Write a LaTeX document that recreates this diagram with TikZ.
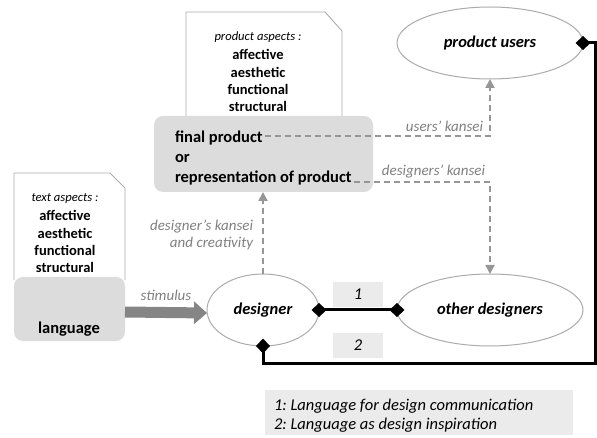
\documentclass[tikz,border=0pt]{standalone}
\usepackage{fontspec}
\setmainfont{Carlito}
\usetikzlibrary{arrows.meta, positioning, shapes.geometric, calc}
\definecolor{BoxGray}{HTML}{DCDCDC}
\definecolor{PaleGray}{HTML}{EBEBEB}
\definecolor{EdgeGray}{HTML}{ABABAB}
\definecolor{DashGray}{HTML}{969696}
\definecolor{LabelGray}{HTML}{7F7F7F}
\definecolor{StimGray}{HTML}{858585}
\frenchspacing

\begin{document}
\begin{tikzpicture}[x=1pt, y=-1pt, every node/.style={inner sep=0pt, outer sep=0pt},
    agent/.style={ellipse, draw=EdgeGray, line width=1pt, fill=white, font=\fontsize{16.5}{19.8}\selectfont\bfseries\itshape},
    graybox/.style={fill=BoxGray, rounded corners=9pt},
    notebox/.style={draw=EdgeGray, line width=0.9pt, fill=white},
    aspects/.style={align=center, font=\fontsize{14.5}{17.3}\selectfont\bfseries},
    boldtxt/.style={font=\fontsize{16.5}{19.8}\selectfont\bfseries},
    flowlbl/.style={text=LabelGray, font=\fontsize{15}{17}\selectfont\itshape},
    kansei/.style={draw=DashGray, line width=1.8pt, dash pattern=on 6pt off 4pt, -{Triangle[width=9pt, length=9pt]}},
    link/.style={line width=3pt, {Diamond[width=14pt, length=15pt]}-{Diamond[width=14pt, length=15pt]}, shorten <=-7.5pt, shorten >=-7.5pt},
    numbox/.style={fill=PaleGray, minimum width=50pt, minimum height=25pt, font=\fontsize{16.5}{19}\selectfont\itshape}]
    \useasboundingbox (0,0) rectangle (597,438);

    % Aspect notes
    \draw[notebox] (186,116) -- (186,12) -- (325,12) -- (342,31) -- (342,116);
    \node[aspects] (prodasp) at (258,72) {{\mdseries\itshape\fontsize{12.6}{15}\selectfont product aspects :}\\[1.7pt]affective\\aesthetic\\functional\\structural};
    \draw[notebox] (14,280) -- (14,173) -- (110,173) -- (125,188) -- (125,280);
    \node[aspects] (textasp) at (65,233.5) {{\mdseries\itshape\fontsize{12.6}{15}\selectfont text aspects :}\\[1.7pt]affective\\aesthetic\\functional\\structural};

    % Boxes
    \node[graybox, minimum width=219pt, minimum height=76pt] (prodbox) at (263.5,154) {};
    \node[boldtxt, anchor=base west] (fp) at (175,143) {final product};
    \node[boldtxt, anchor=base west] (orword) at (175,163) {or};
    \node[boldtxt, anchor=base west] (rep) at (175,183) {representation of product};
    \node[graybox, minimum width=111pt, minimum height=64pt] (langbox) at (69.5,309) {};
    \node[boldtxt, anchor=base] (langtxt) at (69,334) {language};

    % Ellipses
    \node[agent, minimum width=112pt, minimum height=72pt] (designer) at (263,310) {designer};
    \node[agent, minimum width=186pt, minimum height=72pt] (others) at (490,310) {other designers};
    \node[agent, minimum width=186pt, minimum height=72pt] (users) at (490,43) {product users};

    % Arrows
    \draw[line width=11pt, draw=StimGray, -{Triangle[width=22pt, length=13pt]}] ([yshift=-3pt]langbox.east) -- node[flowlbl, above=11.5pt] {stimulus} ([yshift=-3pt]designer.west);
    \draw[kansei] (designer.north) -- node[flowlbl, align=right, left=10pt, yshift=-2pt] {designer's kansei\\and creativity} (designer.north |- prodbox.south);
    \draw[kansei] ([xshift=2pt, yshift=7pt]fp.base east) -| node[flowlbl, anchor=base east, xshift=-7pt, yshift=4pt] {users' kansei} (users.south);
    \draw[kansei] ([xshift=2pt, yshift=1pt]rep.base east) -| node[flowlbl, anchor=base east, xshift=-5pt, yshift=6pt] {designers' kansei} (others.north);

    % Links
    \node[numbox] (one) at (358,294.5) {1};
    \node[numbox] (two) at (358,345.5) {2};
    \draw[link] (designer.east) -- (others.west);
    \coordinate (loopcorner) at (595,363);
    \draw[link] (designer.south) |- (loopcorner) |- (users.east);

    % Legend
    \node[fill=PaleGray, minimum width=308pt, minimum height=45pt] (legend) at (419,412.5) {};
    \node[anchor=base west, align=left, font=\fontsize{16.5}{19}\selectfont\itshape] (legendtxt) at (274,429) {1: Language for design communication\\2: Language as design inspiration};
\end{tikzpicture}
\end{document}
